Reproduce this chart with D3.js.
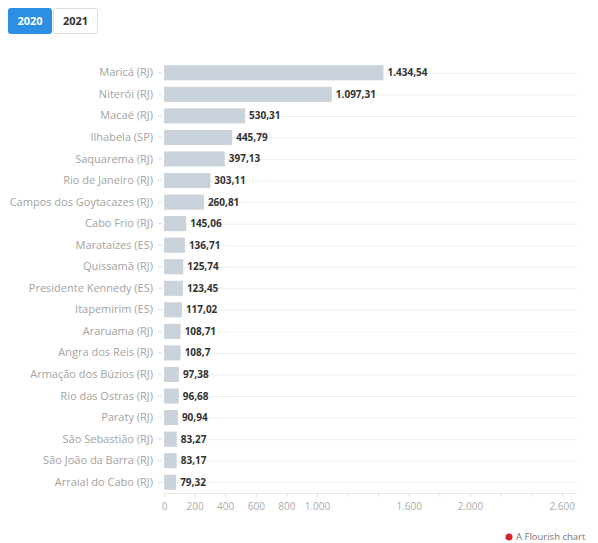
<!DOCTYPE html>
<html>
<head>
<meta charset="utf-8">
<script src="https://cdn.jsdelivr.net/npm/d3@7"></script>
<style>
  body { margin: 0; background: #fff; font-family: "Open Sans", sans-serif; }
  .btn { position: absolute; top: 8px; height: 26px; line-height: 26px; font-size: 11px; font-weight: 700;
         text-align: center; border-radius: 3px; box-sizing: border-box; }
  #b2020 { left: 8px; width: 44px; background: #2d8fe3; color: #fff; }
  #b2021 { left: 53px; width: 45px; background: #fff; color: #333; border: 1px solid #ddd; line-height: 24px; }
</style>
</head>
<body>
<div class="btn" id="b2020">2020</div>
<div class="btn" id="b2021">2021</div>
<div id="chart"></div>
<script>
// municipalities (2020)
var cities = ["Maricá (RJ)", "Niterói (RJ)", "Macaé (RJ)", "Ilhabela (SP)", "Saquarema (RJ)",
  "Rio de Janeiro (RJ)", "Campos dos Goytacazes (RJ)", "Cabo Frio (RJ)", "Marataízes (ES)",
  "Quissamã (RJ)", "Presidente Kennedy (ES)", "Itapemirim (ES)", "Araruama (RJ)",
  "Angra dos Reis (RJ)", "Armação dos Búzios (RJ)", "Rio das Ostras (RJ)", "Paraty (RJ)",
  "São Sebastião (RJ)", "São João da Barra (RJ)", "Arraial do Cabo (RJ)"];
var values = [1434.54, 1097.31, 530.31, 445.79, 397.13, 303.11, 260.81, 145.06, 136.71,
  125.74, 123.45, 117.02, 108.71, 108.7, 97.38, 96.68, 90.94, 83.27, 83.17, 79.32];
var tickValues = [0, 200, 400, 600, 800, 1000, 1200, 1400, 1600, 1800, 2000, 2200, 2400, 2600];
var tickLabels = [0, 200, 400, 600, 800, 1000, 1600, 2000, 2600];

var W = 598, H = 543;
var mLeft = 164, mRight = 577, mTop = 62, mBottom = 493;

var ptBR = d3.formatLocale({decimal: ",", thousands: ".", grouping: [3], currency: ["R$", ""]});
var fmtVal = ptBR.format(",.2~f");
var fmtTick = ptBR.format(",d");

var svg = d3.select("#chart").append("svg")
    .attr("width", W).attr("height", H)
    .style("position", "absolute").style("left", 0).style("top", 0);

var x = d3.scaleLinear().domain([0, 2700]).range([mLeft, mRight]);
var y = d3.scaleBand().domain(cities).range([mTop, mBottom]).paddingInner(0.3).paddingOuter(0.15);

// row grid lines
svg.append("g").selectAll("line")
    .data(cities).join("line")
    .attr("x1", mLeft).attr("x2", mRight)
    .attr("y1", d => y(d) + y.bandwidth() / 2 + 0.5)
    .attr("y2", d => y(d) + y.bandwidth() / 2 + 0.5)
    .attr("stroke", "#eeeeee");

// x axis
var xAxis = svg.append("g")
    .attr("transform", "translate(0," + mBottom + ")")
    .call(d3.axisBottom(x).tickValues(tickValues).tickSize(4).tickPadding(6)
      .tickFormat(d => tickLabels.indexOf(d) >= 0 ? fmtTick(d) : ""));
xAxis.select(".domain").attr("stroke", "#e6e6e6").attr("d", "M" + mLeft + ",0.5H" + mRight);
xAxis.selectAll(".tick line").attr("stroke", "#e0e0e0");
xAxis.selectAll("text").attr("fill", "#aaa").style("font-size", "10px").style("font-family", "Open Sans");

// y axis
var yAxis = svg.append("g")
    .attr("transform", "translate(" + (mLeft - 2) + ",0)")
    .call(d3.axisLeft(y).tickSize(4).tickPadding(5));
yAxis.select(".domain").remove();
yAxis.selectAll(".tick line").attr("stroke", "#ddd");
yAxis.selectAll("text").attr("fill", "#a3a3a3").style("font-size", "11px").style("font-family", "Open Sans");

// bars
svg.append("g").selectAll("rect")
    .data(values).join("rect")
    .attr("x", x(0))
    .attr("y", (d, i) => y(cities[i]))
    .attr("width", d => x(d) - x(0))
    .attr("height", y.bandwidth())
    .attr("fill", "#cad2db");

// value labels
svg.append("g").selectAll("text")
    .data(values).join("text")
    .attr("x", d => x(d) + 4)
    .attr("y", (d, i) => y(cities[i]) + y.bandwidth() / 2)
    .attr("dy", "0.35em")
    .attr("fill", "#333")
    .style("font-size", "10px")
    .style("font-weight", "700")
    .style("font-family", "Open Sans")
    .text(d => fmtVal(d));

// footer
svg.append("circle").attr("cx", 509).attr("cy", 537).attr("r", 3.5).attr("fill", "#d7202a");
svg.append("text").attr("x", 516).attr("y", 537).attr("dy", "0.35em")
    .attr("fill", "#777").style("font-size", "9.5px").style("font-family", "Open Sans")
    .text("A Flourish chart");
</script>
</body>
</html>
